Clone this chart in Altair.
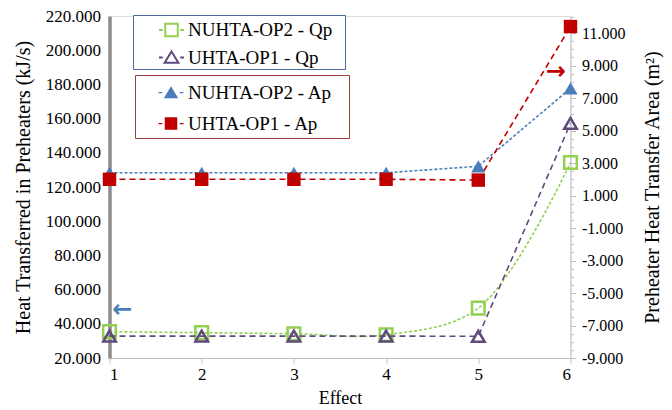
import altair as alt
import pandas as pd

# ---------------- data ----------------
effects = [1, 2, 3, 4, 5, 6]
qp_nuhta_op2 = [35.4, 34.8, 34.2, 33.6, 49.2, 134.3]
qp_uhta_op1 = [32.8, 32.8, 32.8, 32.8, 32.7, 157.2]
ap_nuhta_op2 = [2.4, 2.4, 2.4, 2.4, 2.8, 7.6]
ap_uhta_op1 = [2.0, 2.0, 2.0, 2.0, 1.95, 11.4]

qp_names = ["NUHTA-OP2 - Qp", "UHTA-OP1 - Qp"]
ap_names = ["NUHTA-OP2 - Ap", "UHTA-OP1 - Ap"]

left_ticks = [20, 40, 60, 80, 100, 120, 140, 160, 180, 200, 220]
right_ticks = [-9 + 0.5 * i for i in range(43)]

left_arrow_effect = [1.14]
left_arrow_value = [48]
left_arrow_glyph = ["\u2190"]
right_arrow_effect = [5.84]
right_arrow_value = [8.6]
right_arrow_glyph = ["\u2192"]

GREEN = "#92D050"
PURPLE = "#604A7B"
BLUE = "#4A7EBB"
RED = "#C00000"
FONT = "Liberation Serif"

qp_df = pd.DataFrame({
    "effect": effects * 2,
    "value": qp_nuhta_op2 + qp_uhta_op1,
    "series": [qp_names[0]] * 6 + [qp_names[1]] * 6,
})
ap_df = pd.DataFrame({
    "effect": effects * 2,
    "value": ap_nuhta_op2 + ap_uhta_op1,
    "series": [ap_names[0]] * 6 + [ap_names[1]] * 6,
})
la_df = pd.DataFrame({"effect": left_arrow_effect, "value": left_arrow_value, "glyph": left_arrow_glyph})
ra_df = pd.DataFrame({"effect": right_arrow_effect, "value": right_arrow_value, "glyph": right_arrow_glyph})

# ---------------- scales / axes ----------------
X = alt.X(
    "effect:Q",
    scale=alt.Scale(domain=[1, 6], nice=False, zero=False),
    axis=alt.Axis(values=effects, format="d", title="Effect", grid=False,
                  domainColor="#BFBFBF", tickColor="#BFBFBF", tickSize=5,
                  labelFont=FONT, labelFontSize=17, labelColor="black", labelPadding=3,
                  titleFont=FONT, titleFontSize=18, titleFontWeight="normal",
                  titleColor="black", titlePadding=7),
)

Y_left = alt.Y(
    "value:Q",
    scale=alt.Scale(domain=[20, 220], nice=False, zero=False),
    axis=alt.Axis(values=left_ticks, format=".3f", grid=False, ticks=False,
                  domainColor="#8C8C8C", domainWidth=3.5,
                  labelFont=FONT, labelFontSize=17, labelColor="black", labelPadding=9,
                  title="Heat Transferred in Preheaters (kJ/s)",
                  titleFont=FONT, titleFontSize=20, titleFontWeight="normal",
                  titleColor="black", titlePadding=12),
)

Y_right = alt.Y(
    "value:Q",
    scale=alt.Scale(domain=[-9, 12.05], nice=False, zero=False),
    axis=alt.Axis(orient="right", values=right_ticks, grid=False,
                  labelExpr="abs(datum.value % 2) == 1 ? replace(format(datum.value, '.3f'), '\u2212', '-') : ''",
                  domainColor="#BFBFBF", tickColor="#BFBFBF",
                  tickSize={"condition": {"test": "abs(datum.value % 2) == 1", "value": 5}, "value": 3},
                  labelFont=FONT, labelFontSize=16, labelColor="black", labelPadding=6,
                  title="Preheater Heat Transfer Area  (m\u00b2)",
                  titleFont=FONT, titleFontSize=20, titleFontWeight="normal",
                  titleColor="black", titlePadding=38, titleAngle=270),
)

# ---------------- legend symbols (line - marker - line) ----------------
HOLLOW_PATHS = [
    "M-0.5,-0.5H0.5V0.5H-0.5Z M-1,0H-0.7 M0.7,0H1",
    "M0,-0.48L0.55,0.42H-0.55Z M-1,0H-0.7 M0.7,0H1",
]
FILLED_PATHS = [
    "M0,-0.5L0.58,0.45H-0.58Z M-1,-0.05H-0.7V0.05H-1Z M0.7,-0.05H1V0.05H0.7Z",
    "M-0.5,-0.5H0.5V0.5H-0.5Z M-1,-0.05H-0.7V0.05H-1Z M0.7,-0.05H1V0.05H0.7Z",
]


def make_legend(x, y, stroke, pad, row_pad, sym_off, lab_off, right_space):
    # a white right-hand title widens the framed box to the reference width
    return alt.Legend(
        orient="none", legendX=x, legendY=y,
        title=".", titleOrient="right", titleColor="white", titleFontSize=10,
        titlePadding=right_space,
        labelFont=FONT, labelFontSize=19, labelColor="black",
        symbolOffset=sym_off, labelOffset=lab_off, padding=pad, rowPadding=row_pad,
        strokeColor=stroke, fillColor="white",
        symbolSize=625, symbolStrokeWidth=2, symbolOpacity=1,
    )


qp_legend = make_legend(23.5, -1, "#4A6B9B", 1.5, 3.5, 23.5, 3, 7.5)
ap_legend = make_legend(25.5, 59, "#A0403E", 4, 7, 18.5, 3.5, 9.5)


def series_layers(df, name, y, color, shape, filled, dash, interp, size):
    line = alt.Chart(df).transform_filter(alt.datum.series == name).mark_line(
        color=color, strokeDash=dash, strokeWidth=1.6, interpolate=interp
    ).encode(x=X, y=y)
    if filled:
        pts = alt.Chart(df).transform_filter(alt.datum.series == name).mark_point(
            shape=shape, filled=True, color=color, size=size, opacity=1
        ).encode(x=X, y=y)
    else:
        pts = alt.Chart(df).transform_filter(alt.datum.series == name).mark_point(
            shape=shape, filled=False, color=color, size=size, strokeWidth=2.5, opacity=1
        ).encode(x=X, y=y)
    return [line, pts]


# ---------------- left-axis group ----------------
qp_key = alt.Chart(qp_df).mark_point(filled=False, opacity=0).encode(
    x=X, y=Y_left,
    color=alt.Color("series:N", scale=alt.Scale(domain=qp_names, range=[GREEN, PURPLE]), legend=qp_legend),
    shape=alt.Shape("series:N", scale=alt.Scale(domain=qp_names, range=HOLLOW_PATHS), legend=qp_legend),
)
qp_arrow = alt.Chart(la_df).mark_text(font="DejaVu Sans", fontSize=24, fontWeight="bold", color=BLUE).encode(
    x=X, y=Y_left, text="glyph:N")
qp_group = alt.layer(
    *series_layers(qp_df, qp_names[0], Y_left, GREEN, "square", False, [3, 2], "catmull-rom", 160),
    *series_layers(qp_df, qp_names[1], Y_left, PURPLE, "triangle-up", False, [6, 4], "linear", 160),
    qp_key, qp_arrow,
)

# ---------------- right-axis group ----------------
ap_key = alt.Chart(ap_df).mark_point(filled=True, opacity=0).encode(
    x=X, y=Y_right,
    color=alt.Color("series:N", scale=alt.Scale(domain=ap_names, range=[BLUE, RED]), legend=ap_legend),
    shape=alt.Shape("series:N", scale=alt.Scale(domain=ap_names, range=FILLED_PATHS), legend=ap_legend),
)
ap_arrow = alt.Chart(ra_df).mark_text(font="DejaVu Sans", fontSize=24, fontWeight="bold", color=RED).encode(
    x=X, y=Y_right, text="glyph:N")
ap_group = alt.layer(
    *series_layers(ap_df, ap_names[0], Y_right, BLUE, "triangle-up", True, [3, 2], "linear", 200),
    *series_layers(ap_df, ap_names[1], Y_right, RED, "square", True, [6, 4], "linear", 180),
    ap_key, ap_arrow,
)

chart = alt.layer(qp_group, ap_group).resolve_scale(
    y="independent", color="independent", shape="independent"
).properties(
    width=461, height=342,
    padding={"left": 101.5, "top": 8, "right": 93.5, "bottom": 50},
    autosize="none",
).configure_view(stroke=None).configure_legend(strokeWidth=2).configure(background="white")

chart.save("out.html", embed_options={"renderer": "svg", "actions": False})
